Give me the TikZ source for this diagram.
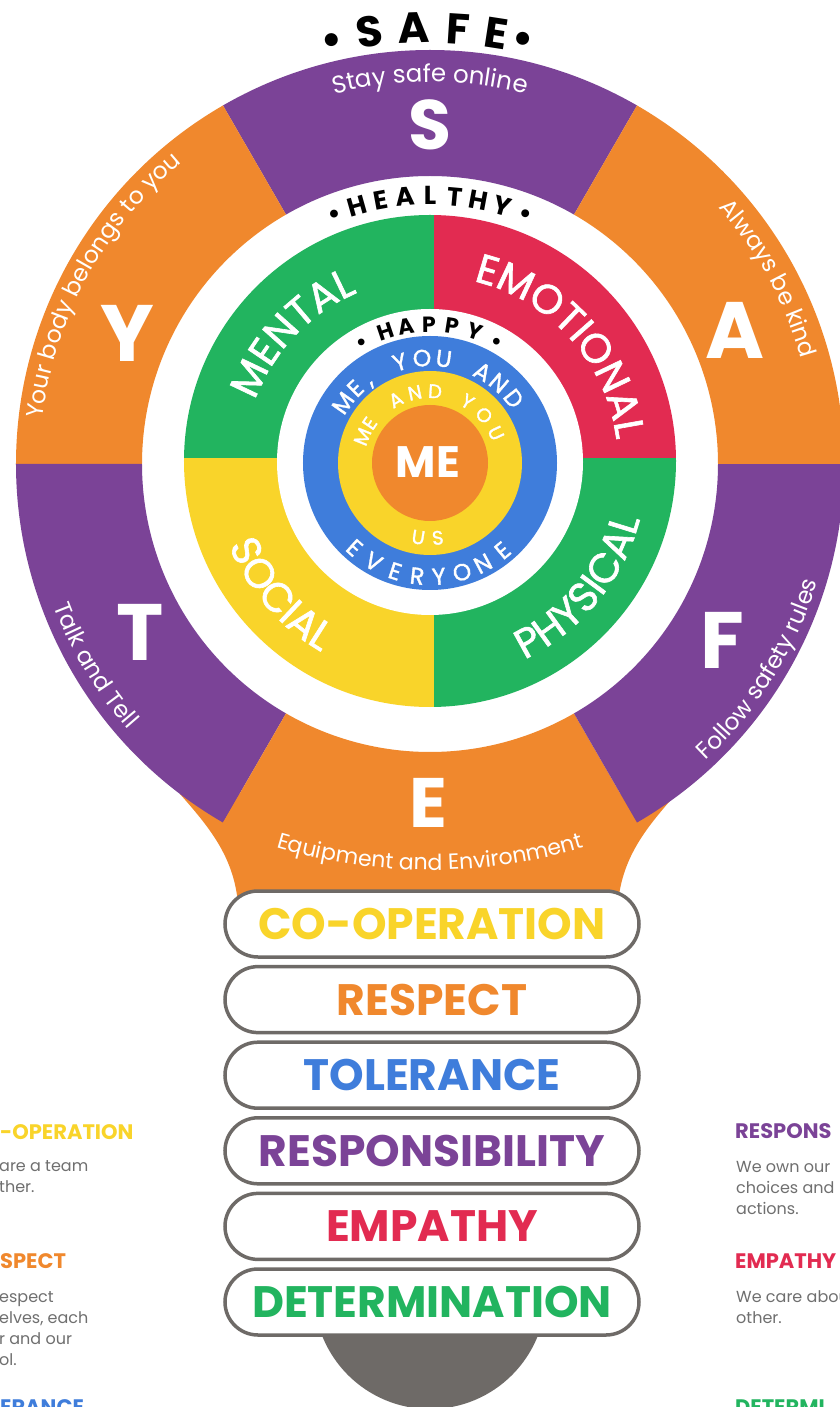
\documentclass[tikz,border=0pt]{standalone}
\usepackage{fontspec}
\setmainfont{Poppins}
\newfontfamily\ringfont{Poppins}[FakeBold=1.5]
\usetikzlibrary{decorations.text}

\definecolor{safepurple}{HTML}{7B4397}
\definecolor{safeorange}{HTML}{F0882D}
\definecolor{mindgreen}{HTML}{22B45F}
\definecolor{feelred}{HTML}{E22B51}
\definecolor{sunyellow}{HTML}{F9D42A}
\definecolor{skyblue}{HTML}{3F7DDB}
\definecolor{bulbgray}{HTML}{6E6A67}
\definecolor{notegray}{HTML}{6F6F6F}

\newcommand{\fsz}[1]{\fontsize{#1}{#1}\selectfont}
% piece of a ring: colour, from, to, outer, inner
\newcommand{\ringpiece}[5]{%
  \fill[#1] (#2:#4pt) arc[start angle=#2, end angle=#3, radius=#4pt]
    -- (#3:#5pt) arc[start angle=#3, end angle=#2, radius=#5pt] -- cycle;}
% white words on an arc: path options, font, from, to, radius, text
\newcommand{\arcwords}[6][]{%
  \path[#1, decorate, decoration={text along path, text align=center,
      text color=white, text={|#2|#6}}]
    (#3:#5pt) arc[start angle=#3, end angle=#4, radius=#5pt];}

\begin{document}
\begin{tikzpicture}[x=1pt, y=1pt,
    letter/.style={inner sep=0pt, anchor=base},
    bigletter/.style={inner sep=0pt, text=white, font=\bfseries\fsz{#1}},
    pill/.style={draw=bulbgray, line width=3.5pt, fill=white, rounded corners=33pt,
      minimum width=414pt, minimum height=66pt, font=\bfseries\fsz{44}},
    notehead/.style={anchor=base west, inner sep=0pt, font=\bfseries\fsz{21}},
    notetext/.style={anchor=base west, inner sep=0pt, text=notegray, font=\fsz{16}}]
  \fill[white] (-430,-943) rectangle (409,464);
  \useasboundingbox (-430,-943) rectangle (409,464);

  % base of the bulb and its neck
  \begin{scope}
    \clip (-200,-838) rectangle (200,-960);
    \fill[bulbgray] (0,-829) circle[radius=116pt];
  \end{scope}
  \fill[safeorange] (-250,-330) .. controls (-222,-362) and (-196,-392) .. (-192,-440)
    -- (188,-440) .. controls (192,-392) and (218,-362) .. (246,-330) -- cycle;

  % SAFE ring
  \ringpiece{safepurple}{60}{120}{414}{288}
  \ringpiece{safeorange}{120}{180}{414}{288}
  \ringpiece{safepurple}{180}{240}{414}{288}
  \ringpiece{safeorange}{240}{300}{414}{288}
  \ringpiece{safepurple}{300}{360}{414}{288}
  \ringpiece{safeorange}{0}{60}{414}{288}

  % HEALTHY ring
  \begin{scope}
    \clip (0,3) circle[radius=246pt];
    \fill[mindgreen] (-250,6) rectangle (4,250);
    \fill[feelred] (4,6) rectangle (250,250);
    \fill[sunyellow] (-250,-250) rectangle (4,6);
    \fill[mindgreen] (4,-250) rectangle (250,6);
  \end{scope}
  \fill[white] (0,2) circle[radius=153pt];

  % HAPPY circles
  \fill[skyblue] (0,1) circle[radius=127pt];
  \fill[sunyellow] (0,1) circle[radius=92pt];
  \fill[safeorange] (0,1) circle[radius=58pt];

  % big letters
  \node[bigletter=70] (bigS) at (0,339) {S};
  \node[bigletter=80] (bigA) at (305,134) {A};
  \node[bigletter=80] (bigF) at (292,-176) {F};
  \node[bigletter=70] (bigE) at (-2,-339) {E};
  \node[bigletter=80] (bigT) at (-290,-168) {T};
  \node[bigletter=80] (bigY) at (-303,131) {Y};
  \node[bigletter=44] (me) at (-2,2) {ME};

  % words round the rings
  \arcwords{\fsz{24.5}}{125}{55}{382}{Stay safe online}
  \arcwords{\fsz{23.5}}{68.7}{-11.3}{386}{Always be kind}
  \arcwords{\fsz{23.5}}{288}{368}{405}{Follow safety rules}
  \arcwords[shift={(0,130)}]{\fsz{22}}{240}{300}{536}{Equipment and Environment}
  \arcwords{\fsz{23.5}}{171}{251}{402}{Talk and Tell}
  \arcwords{\fsz{23.5}}{191.4}{111.4}{390}{Your body belongs to you}

  \arcwords{\ringfont\fsz{41}}{176.5}{96.5}{186}{MENTAL}
  \arcwords{\ringfont\fsz{41}}{87}{-3}{188}{EMOTIONAL}
  \arcwords{\ringfont\fsz{41}}{275.5}{365.5}{217}{PHYSICAL}
  \arcwords{\ringfont\fsz{41}}{181}{261}{217}{SOCIAL}

  \foreach \ch/\a [count=\i] in {\textbullet/103, S/98, A/92.2, F/86.3, E/81.2, \textbullet/77.6}
    \node[letter, font=\bfseries\fsz{43}, rotate=\a-90] (safe\i) at (\a:421pt) {\ch};
  \foreach \ch [count=\i] in {\textbullet,H,E,A,L,T,H,Y,\textbullet}
    \node[letter, font=\bfseries\fsz{26}, rotate={5.25*(5-\i)}] (healthy\i)
      at ({90+5.25*(5-\i)}:259pt) {\ch};
  \foreach \ch/\a [count=\i] in {\textbullet/119.5, H/108.6, A/99.6, P/90.4, P/81, Y/71.4, \textbullet/61.5}
    \node[letter, font=\bfseries\fsz{22}, rotate=\a-90] (happy\i) at (\a:132pt) {\ch};

  \foreach \ch/\a [count=\i] in {M/145, E/134.6, {,}/126, Y/106.5, O/94.3, U/82.5, A/60.3, N/49.6, D/38}
    \node[letter, text=white, font=\ringfont\fsz{23.5}, rotate=\a-90] (meyou\i) at (\a:98pt) {\ch};
  \foreach \ch/\a [count=\i] in {E/228, V/240, E/252, R/263.5, Y/274.5, O/286.5, N/298, E/310}
    \node[letter, text=white, font=\ringfont\fsz{23.5}, rotate=\a+90] (everyone\i) at (\a:121pt) {\ch};
  \foreach \ch/\a [count=\i] in {M/158, E/146, A/118, N/102, D/86, Y/59, O/42, U/25}
    \node[letter, text=white, font=\ringfont\fsz{19.5}, rotate=\a-90] (meandyou\i) at (\a:66pt) {\ch};
  \foreach \ch/\a [count=\i] in {U/261, S/276}
    \node[letter, text=white, font=\ringfont\fsz{19.5}, rotate=\a+90] (us\i) at (\a:81pt) {\ch};

  % values in the bulb
  \foreach \word/\col [count=\i] in {CO-OPERATION/sunyellow, RESPECT/safeorange,
      TOLERANCE/skyblue, RESPONSIBILITY/safepurple, EMPATHY/feelred, DETERMINATION/mindgreen}
    \node[pill, text=\col] (pill\i) at (2,{-460-75.6*(\i-1)}) {\word};

  % notes at the sides
  \node[notehead, text=sunyellow] (coophead) at (-430,-675) {-OPERATION};
  \node[notetext] (coop1) at (-431,-707) {are a team};
  \node[notetext] (coop2) at (-431,-728) {ther.};
  \node[notehead, text=safeorange] (resphead) at (-430,-804) {SPECT};
  \node[notetext] (resp1) at (-431,-838) {espect};
  \node[notetext] (resp2) at (-431,-859) {elves, each};
  \node[notetext] (resp3) at (-431,-880) {r and our};
  \node[notetext] (resp4) at (-431,-901) {ol.};
  \node[notehead, text=skyblue] (tolhead) at (-430,-950) {ERANCE};

  \node[notehead, text=safepurple] (ownhead) at (305,-674) {RESPONS};
  \node[notetext] (own1) at (306,-708) {We own our};
  \node[notetext] (own2) at (306,-729) {choices and};
  \node[notetext] (own3) at (306,-750) {actions.};
  \node[notehead, text=feelred] (carehead) at (305,-804) {EMPATHY};
  \node[notetext] (care1) at (306,-838) {We care abou};
  \node[notetext] (care2) at (306,-859) {other.};
  \node[notehead, text=mindgreen] (dethead) at (305,-950) {DETERMI};
\end{tikzpicture}
\end{document}
